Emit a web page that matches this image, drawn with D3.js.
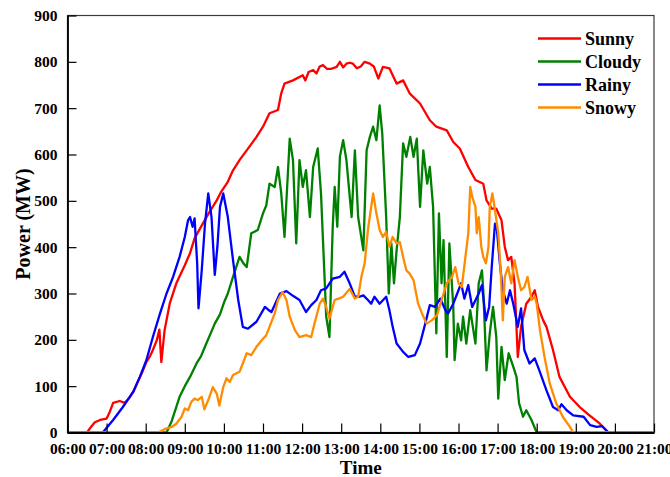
<!DOCTYPE html>
<html>
<head>
<meta charset="utf-8">
<script src="https://cdn.jsdelivr.net/npm/d3@7"></script>
<style>
  body { margin: 0; background: #fff; }
  svg { display: block; font-family: "Liberation Serif", "Times New Roman", serif; }
</style>
</head>
<body>
<div id="vis"></div>
<script>
// ==== DATA (time, MW) ====
const sunny = [
  ["06:00",0],["06:30",0],["06:36",12],["06:42",22],["06:50",27],["07:00",30],["07:05",45],["07:10",64],
  ["07:20",68],["07:28",64],["07:35",75],["07:41",88],["07:48",110],["07:54",128],["08:01",152],["08:06",163],
  ["08:11",178],["08:17",199],["08:21",222],["08:24",152],["08:29",221],["08:37",279],["08:47",322],["09:00",361],
  ["09:08",387],["09:15",419],["09:28",452],["09:38",476],["09:49",501],["09:56",520],["10:06",541],["10:14",566],
  ["10:25",590],["10:35",609],["10:50",638],["11:00",660],["11:10",689],["11:23",696],["11:28",732],["11:33",753],
  ["11:46",760],["12:01",771],["12:05",760],["12:10",778],["12:17",782],["12:22",775],["12:27",790],["12:32",793],
  ["12:38",785],["12:45",785],["12:53",789],["12:58",800],["13:03",788],["13:08",796],["13:13",798],["13:18",796],
  ["13:24",786],["13:30",790],["13:36",800],["13:44",796],["13:50",790],["13:57",764],["14:04",789],["14:14",786],
  ["14:25",753],["14:35",760],["14:45",732],["15:01",710],["15:16",674],["15:26",660],["15:42",652],["15:52",627],
  ["16:02",613],["16:15",573],["16:26",545],["16:38",537],["16:43",501],["16:51",483],["16:58",483],["17:06",458],
  ["17:11",401],["17:16",372],["17:21",379],["17:26",322],["17:31",163],["17:36",228],["17:44",278],["17:52",293],
  ["17:57",307],["18:02",271],["18:10",242],["18:15",228],["18:25",178],["18:35",120],["18:51",77],["19:06",55],
  ["19:21",37],["19:37",19],["19:50",0],["21:00",0]
];
const cloudy = [
  ["06:00",0],["08:32",0],["08:40",25],["08:52",77],["09:00",100],["09:08",120],["09:18",149],["09:25",165],
  ["09:33",192],["09:40",215],["09:46",235],["09:54",255],["10:00",280],["10:06",300],["10:14",336],["10:24",379],
  ["10:30",365],["10:35",357],["10:42",430],["10:52",437],["11:00",473],["11:05",490],["11:10",537],["11:18",530],
  ["11:23",573],["11:28",516],["11:33",422],["11:41",634],["11:46",588],["11:51",408],["11:56",588],["12:01",530],
  ["12:06",566],["12:12",465],["12:17",573],["12:24",613],["12:29",516],["12:37",250],["12:42",206],["12:47",444],
  ["12:50",530],["12:54",444],["12:58",595],["13:03",631],["13:08",588],["13:16",465],["13:21",609],["13:26",465],
  ["13:34",393],["13:39",609],["13:44",638],["13:49",660],["13:54",631],["13:59",706],["14:03",645],["14:09",465],
  ["14:13",300],["14:17",408],["14:21",322],["14:25",393],["14:30",465],["14:35",624],["14:40",595],["14:46",638],
  ["14:51",595],["14:56",634],["15:01",487],["15:06",609],["15:12",537],["15:16",573],["15:21",487],["15:26",214],
  ["15:30",473],["15:34",322],["15:37",415],["15:42",163],["15:46",408],["15:52",271],["15:54",156],["15:59",235],
  ["16:04",199],["16:07",250],["16:12",192],["16:18",264],["16:26",192],["16:31",322],["16:36",350],["16:38",307],
  ["16:43",134],["16:48",214],["16:53",271],["16:58",206],["17:01",73],["17:06",185],["17:11",113],["17:17",171],
  ["17:24",142],["17:29",120],["17:33",63],["17:39",34],["17:44",48],["17:52",27],["18:00",0],["21:00",0]
];
const rainy = [
  ["06:00",0],["06:54",0],["06:57",5],["07:10",27],["07:25",55],["07:41",88],["07:51",120],["08:01",156],
  ["08:11",206],["08:22",257],["08:32",300],["08:42",336],["08:52",379],["09:00",422],["09:05",458],["09:08",465],
  ["09:12",444],["09:15",462],["09:19",365],["09:21",268],["09:26",350],["09:31",451],["09:36",516],["09:41",465],
  ["09:46",340],["09:50",401],["09:54",487],["09:59",516],["10:06",465],["10:14",372],["10:22",286],["10:29",228],
  ["10:37",224],["10:50",239],["11:03",271],["11:08",265],["11:13",260],["11:26",300],["11:36",305],["11:46",295],
  ["11:56",286],["12:06",260],["12:14",275],["12:22",286],["12:29",307],["12:37",311],["12:47",332],["12:58",336],
  ["13:05",347],["13:13",322],["13:21",293],["13:28",293],["13:34",296],["13:41",286],["13:46",278],["13:51",293],
  ["13:59",278],["14:09",293],["14:14",264],["14:19",228],["14:25",192],["14:35",174],["14:43",163],["14:53",167],
  ["15:01",192],["15:09",235],["15:16",275],["15:24",271],["15:32",289],["15:40",264],["15:44",257],["15:52",278],
  ["16:00",307],["16:04",322],["16:09",289],["16:15",318],["16:21",271],["16:31",300],["16:36",318],["16:42",242],
  ["16:47",271],["16:51",357],["16:56",451],["16:59",437],["17:03",372],["17:08",307],["17:14",278],["17:19",307],
  ["17:24",278],["17:31",228],["17:36",268],["17:41",178],["17:49",149],["17:57",160],["18:04",134],["18:15",91],
  ["18:25",55],["18:33",48],["18:38",61],["18:46",48],["18:56",37],["19:12",34],["19:22",16],["19:32",12],
  ["19:40",14],["19:50",0],["21:00",0]
];
const snowy = [
  ["06:00",0],["08:19",0],["08:32",9],["08:40",12],["08:47",19],["08:55",34],["09:00",52],["09:05",48],
  ["09:10",66],["09:15",73],["09:20",70],["09:26",77],["09:30",50],["09:36",70],["09:43",98],["09:49",84],
  ["09:53",58],["09:59",98],["10:04",117],["10:09",109],["10:14",124],["10:24",131],["10:35",171],["10:42",167],
  ["10:50",185],["10:58",199],["11:05",210],["11:10",228],["11:18",257],["11:23",286],["11:30",303],["11:36",286],
  ["11:41",250],["11:49",221],["11:56",206],["12:06",210],["12:14",206],["12:19",235],["12:27",278],["12:32",289],
  ["12:37",271],["12:42",246],["12:50",286],["12:58",290],["13:03",293],["13:13",310],["13:21",289],["13:26",293],
  ["13:31",336],["13:36",365],["13:41",437],["13:49",516],["13:54",473],["13:59",437],["14:04",422],["14:09",433],
  ["14:14",401],["14:19",422],["14:25",408],["14:30",411],["14:35",379],["14:40",350],["14:45",343],["14:51",329],
  ["14:58",278],["15:04",257],["15:11",235],["15:19",242],["15:27",253],["15:34",286],["15:42",322],["15:50",336],
  ["15:55",357],["16:00",322],["16:05",314],["16:09",360],["16:15",430],["16:18",530],["16:21",509],["16:26",487],
  ["16:28",430],["16:31",465],["16:35",401],["16:38",379],["16:42",365],["16:46",401],["16:48",487],["16:52",516],
  ["16:56",480],["17:01",430],["17:05",343],["17:08",242],["17:11",336],["17:16",357],["17:21",322],["17:26",372],
  ["17:31",336],["17:36",307],["17:41",314],["17:46",336],["17:52",286],["17:57",293],["18:00",278],["18:05",221],
  ["18:12",163],["18:20",106],["18:30",63],["18:40",34],["18:51",12],["18:56",0],["21:00",0]
];

const seriesNames = ["Sunny", "Cloudy", "Rainy", "Snowy"];
const seriesData = [sunny, cloudy, rainy, snowy];
const seriesColors = ["#ff0000", "#008000", "#0000ff", "#ff8c00"];
const yTicks = [0, 100, 200, 300, 400, 500, 600, 700, 800, 900];

// ==== LAYOUT ====
const width = 670, height = 477;
const margin = {top: 15.5, right: 16, bottom: 44.5, left: 67.5};
const innerW = width - margin.left - margin.right;
const innerH = height - margin.top - margin.bottom;

const parseTime = d3.timeParse("%H:%M");

const svg = d3.select("#vis")
  .append("svg")
  .attr("width", width)
  .attr("height", height);

const g = svg.append("g")
  .attr("transform", `translate(${margin.left},${margin.top})`);

const x = d3.scaleTime()
  .domain([parseTime("06:00"), parseTime("21:00")])
  .range([0, innerW]);

const y = d3.scaleLinear()
  .domain([0, 900])
  .range([innerH, 0]);

// frame
g.append("rect")
  .attr("width", innerW)
  .attr("height", innerH)
  .attr("fill", "none")
  .attr("stroke", "#3a3a3a")
  .attr("stroke-width", 1.2);

// ==== LINES ====
const line = d3.line()
  .x(d => x(parseTime(d[0])))
  .y(d => y(d[1]));

seriesData.forEach((s, i) => {
  g.append("path")
    .datum(s)
    .attr("fill", "none")
    .attr("stroke", seriesColors[i])
    .attr("stroke-width", 2.3)
    .attr("stroke-linejoin", "round")
    .attr("d", line);
});

// ==== AXES ====
const xAxis = g.append("g")
  .attr("transform", `translate(0,${innerH})`)
  .call(d3.axisBottom(x)
    .ticks(d3.timeHour.every(1))
    .tickFormat(d3.timeFormat("%H:%M"))
    .tickSizeInner(-9)
    .tickSizeOuter(0)
    .tickPadding(10));

const yAxis = g.append("g")
  .call(d3.axisLeft(y)
    .tickValues(yTicks)
    .tickSizeInner(-9)
    .tickSizeOuter(0)
    .tickPadding(10));

[xAxis, yAxis].forEach(a => {
  a.select(".domain").attr("stroke", "#000").attr("stroke-width", 1.8);
  a.selectAll(".tick line").attr("stroke", "#000").attr("stroke-width", 1.2);
  a.selectAll(".tick text")
    .attr("fill", "#000")
    .style("font-family", "'Liberation Serif', 'Times New Roman', serif")
    .style("font-size", "15.5px")
    .style("font-weight", "bold");
});

// axis titles
svg.append("text")
  .attr("x", margin.left + innerW / 2)
  .attr("y", 474)
  .attr("text-anchor", "middle")
  .style("font-size", "19px")
  .style("font-weight", "bold")
  .text("Time");

svg.append("text")
  .attr("transform", `translate(30,${margin.top + innerH / 2}) rotate(-90)`)
  .attr("text-anchor", "middle")
  .style("font-size", "20px")
  .style("font-weight", "bold")
  .text("Power (MW)");

// ==== LEGEND ====
const legend = svg.append("g")
  .attr("transform", "translate(538,38.5)");

seriesNames.forEach((name, i) => {
  const row = legend.append("g").attr("transform", `translate(0,${i * 23})`);
  row.append("line")
    .attr("x1", 0).attr("x2", 43)
    .attr("stroke", seriesColors[i])
    .attr("stroke-width", 2.3);
  row.append("text")
    .attr("x", 47)
    .attr("y", 6.5)
    .style("font-size", "18px")
    .style("font-weight", "bold")
    .text(name);
});
</script>
</body>
</html>
